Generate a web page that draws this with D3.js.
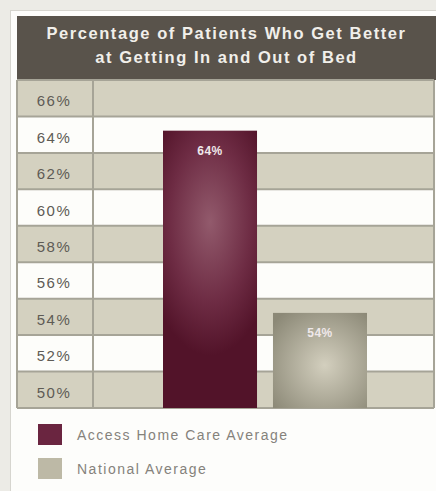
<!DOCTYPE html>
<html><head><meta charset="utf-8">
<script src="https://cdn.jsdelivr.net/npm/d3@7"></script>
<style>body{margin:0;background:#ecebe6;}svg{display:block;}</style>
</head><body>
<script>
const titleLines = ["Percentage of Patients Who Get Better", "at Getting In and Out of Bed"];
const categories = ["Access Home Care Average", "National Average"];
const values = [64, 54];
const valueLabels = ["64%", "54%"];
const tickValues = [66, 64, 62, 60, 58, 56, 54, 52, 50];
const tickLabels = ["66%", "64%", "62%", "60%", "58%", "56%", "54%", "52%", "50%"];
const colors = ["#6a2540", "#bdb9a6"];

(function(){
const W = 436, H = 491;
const FONT = "Liberation Sans, Arial, sans-serif";
const svg = d3.select("body").append("svg").attr("width", W).attr("height", H);
const defs = svg.append("defs");

const g1 = defs.append("radialGradient").attr("id","gMaroon").attr("cx","50%").attr("cy","33%").attr("r","80%")
  .attr("gradientTransform","translate(0.5,0.33) scale(0.9,0.6) translate(-0.5,-0.33)");
g1.append("stop").attr("offset","0%").attr("stop-color","#925a6c");
g1.append("stop").attr("offset","60%").attr("stop-color","#6e2c44");
g1.append("stop").attr("offset","100%").attr("stop-color","#521329");
const g2 = defs.append("radialGradient").attr("id","gGray").attr("cx","55%").attr("cy","55%").attr("r","70%");
g2.append("stop").attr("offset","0%").attr("stop-color","#d3cfbe");
g2.append("stop").attr("offset","100%").attr("stop-color","#8c8977");
const fills = ["url(#gMaroon)", "url(#gGray)"];

// card
svg.append("rect").attr("x",10.5).attr("y",10.5).attr("width",W).attr("height",H)
  .attr("fill","#fdfdfb").attr("stroke","#d6d5cf");

const pLeft = 17, pRight = 434, colRight = 93, pTop = 80, pBottom = 408;

// header
svg.append("rect").attr("x",pLeft).attr("y",16).attr("width",W-pLeft).attr("height",pTop-16).attr("fill","#59534b");
svg.append("g").selectAll("text").data(titleLines).join("text")
  .attr("x",(pLeft+W)/2).attr("y",(d,i)=>39+i*24)
  .attr("text-anchor","middle").attr("fill","#f1efea")
  .attr("font-family",FONT).attr("font-weight","bold").attr("font-size",16.5)
  .attr("letter-spacing",1.55)
  .text(d=>d);

const y = d3.scaleLinear().domain([49,67]).range([pBottom, pTop]);

// bands
svg.append("g").selectAll("rect").data(tickValues).join("rect")
  .attr("x",pLeft).attr("width",pRight-pLeft)
  .attr("y",d=>y(d+1)).attr("height",d=>y(d-1)-y(d+1))
  .attr("fill",(d,i)=> i%2===0 ? "#d4d1c0" : "#fdfdfa");

// grid lines
const bounds = [49,51,53,55,57,59,61,63,65,67];
svg.append("g").selectAll("line").data(bounds).join("line")
  .attr("x1",pLeft).attr("x2",pRight).attr("y1",d=>y(d)).attr("y2",d=>y(d))
  .attr("stroke","#a6a497").attr("stroke-width",2);
[pLeft, colRight, pRight].forEach(xx=>{
  svg.append("line").attr("x1",xx).attr("x2",xx).attr("y1",pTop).attr("y2",pBottom)
    .attr("stroke","#a6a497").attr("stroke-width",2);
});

// tick labels
svg.append("g").selectAll("text").data(tickValues).join("text")
  .attr("x",54).attr("y",d=>y(d)+8)
  .attr("text-anchor","middle").attr("fill","#5e5b55")
  .attr("font-family",FONT).attr("font-size",15).attr("letter-spacing",1.5)
  .text((d,i)=>tickLabels[i]);

// bars
const x = d3.scaleBand().domain(categories).range([163,367]).paddingInner(0.145).paddingOuter(0);
svg.append("g").selectAll("rect").data(values).join("rect")
  .attr("x",(d,i)=>x(categories[i])).attr("width",x.bandwidth())
  .attr("y",d=>y(d)-4).attr("height",d=>pBottom-y(d)+4)
  .attr("fill",(d,i)=>fills[i]);
svg.append("g").selectAll("text").data(values).join("text")
  .attr("x",(d,i)=>x(categories[i])+x.bandwidth()/2).attr("y",d=>y(d)+20)
  .attr("text-anchor","middle").attr("fill","#efe8ea")
  .attr("font-family",FONT).attr("font-size",12).attr("font-weight","bold").attr("letter-spacing",0.5)
  .text((d,i)=>valueLabels[i]);

// legend
const lg = svg.append("g").selectAll("g").data(categories).join("g")
  .attr("transform",(d,i)=>`translate(38,${424+i*34})`);
lg.append("rect").attr("width",24).attr("height",21).attr("fill",(d,i)=>colors[i]);
lg.append("text").attr("x",39).attr("y",15.5).attr("fill","#85827b")
  .attr("font-family",FONT).attr("font-size",14).attr("letter-spacing",1.5)
  .text(d=>d);
})();
</script>
</body></html>
